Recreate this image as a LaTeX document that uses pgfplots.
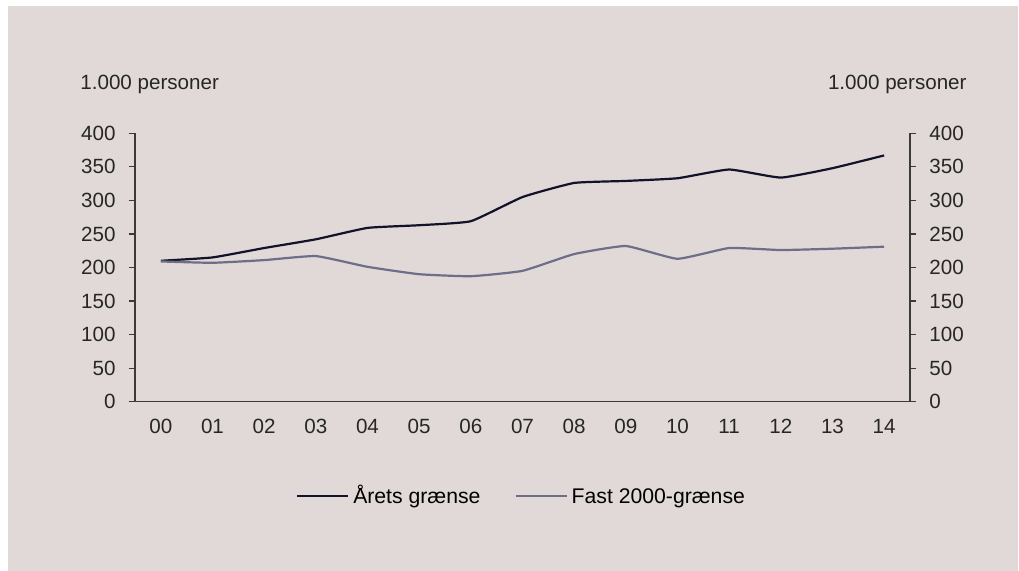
\documentclass[border=0pt]{standalone}
\usepackage{fontspec}
\setmainfont{Liberation Sans}
\usepackage{pgfplots}
\pgfplotsset{compat=1.18}
\definecolor{panel}{HTML}{E0D9D8}
\definecolor{aarets}{HTML}{12122A}
\definecolor{fast}{HTML}{6E6E88}
\definecolor{axisgray}{HTML}{3A3A3A}
\newcommand{\chartfont}{\fontsize{10.3}{12}\selectfont}
\begin{document}
\begin{tikzpicture}[x=0.5pt,y=0.5pt]
\useasboundingbox (0,0) rectangle (1019,571);
\fill[panel] (8,0) rectangle (1018,565);
\pgfplotsset{
  common/.style={
    scale only axis, width=387.5pt, height=134.2pt,
    at={(67.5pt,84.65pt)}, anchor=south west,
    xmin=-0.5, xmax=14.5, ymin=0, ymax=400,
    ytick={0,50,...,400},
    tick style={axisgray, line width=0.6pt},
    axis line style={axisgray, line width=0.6pt},
    major tick length=3.2pt,
    ticklabel style={font=\chartfont, text=black!85},
    /pgf/number format/assume math mode=true,
    /pgf/number format/1000 sep={},
  }
}
\begin{axis}[common,
  axis x line=bottom, axis y line=left,
  tick align=outside,
  x axis line style={-, shorten >=-3.2pt, shorten <=-3.2pt},
  y axis line style={-},
  xtick={0,...,14},
  xticklabels={00,01,02,03,04,05,06,07,08,09,10,11,12,13,14},
  xtick style={draw=none},
  xticklabel style={yshift=-2pt},
  yticklabel style={xshift=-3pt},
  legend style={at={(0.5,-0.29)}, anchor=north, draw=none, fill=none,
    font=\fontsize{10.6}{12}\selectfont, legend columns=2,
    nodes={text height=1.5ex, text depth=0.35ex},
    /tikz/every even column/.append style={column sep=15pt}},
  legend image code/.code={\draw[#1] (0pt,0.8pt) -- (25.5pt,0.8pt);},
]
\addplot[aarets, line width=1.1pt, smooth, tension=0.25] coordinates {
(0,210) (1,215) (2,229) (3,242) (4,259) (5,263) (6,269) (7,305)
(8,326) (9,329) (10,333) (11,346) (12,334) (13,348) (14,367)};
\addlegendentry{Årets grænse}
\addplot[fast, line width=1.1pt, smooth, tension=0.25] coordinates {
(0,209) (1,207) (2,211) (3,217) (4,201) (5,190) (6,187) (7,195)
(8,220) (9,232) (10,213) (11,229) (12,226) (13,228) (14,231)};
\addlegendentry{Fast 2000-grænse}
\end{axis}
\begin{axis}[common,
  axis x line=none, axis y line=right,
  tick align=outside,
  y axis line style={-},
  yticklabel style={xshift=3pt},
]
\end{axis}
\node[anchor=west, inner sep=0pt, font=\chartfont, text=black!85] at (80,487) {1.000 personer};
\node[anchor=east, inner sep=0pt, font=\chartfont, text=black!85] at (967,487) {1.000 personer};
\end{tikzpicture}
\end{document}
